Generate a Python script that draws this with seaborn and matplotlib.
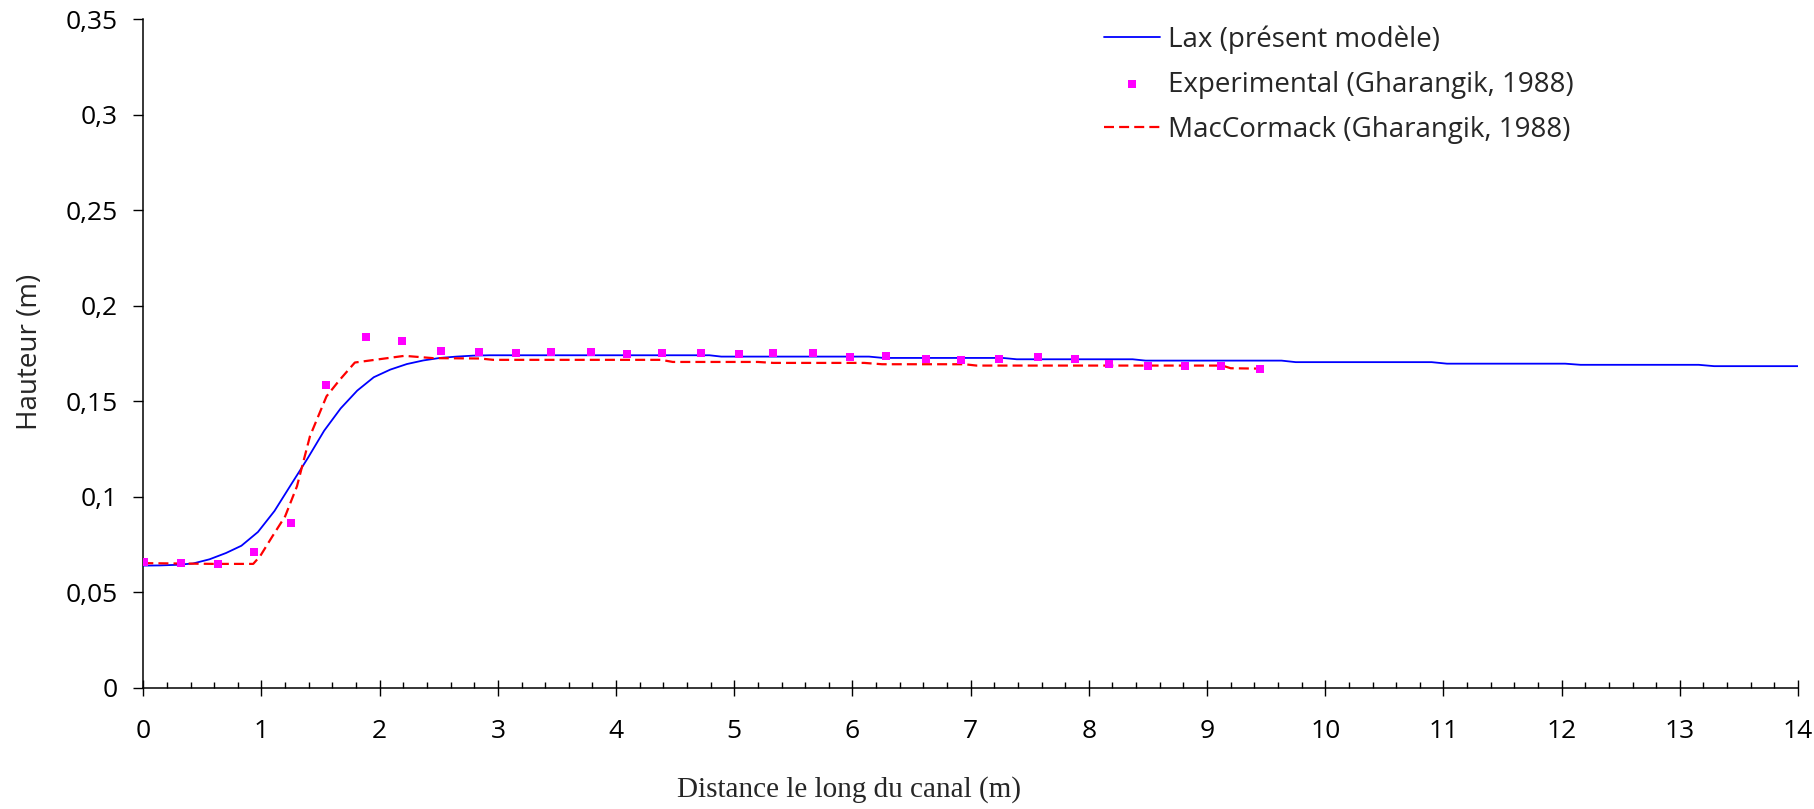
import numpy as np
import pandas as pd
import matplotlib
matplotlib.use("Agg")
import matplotlib.pyplot as plt
from matplotlib.ticker import FuncFormatter, MultipleLocator
import seaborn as sns

# ---------------- data ----------------
lax_x = [0.00, 0.14, 0.28, 0.42, 0.56, 0.70, 0.83, 0.97, 1.11, 1.25, 1.39, 1.53,
         1.67, 1.81, 1.95, 2.09, 2.23, 2.37, 2.51, 2.65, 2.79, 2.93, 4.79, 4.89,
         6.14, 6.26, 7.27, 7.39, 8.37, 8.48, 9.63, 9.75, 10.90, 11.03, 12.03,
         12.16, 13.16, 13.29, 14.00]
lax_y = [0.0639, 0.0640, 0.0643, 0.0650, 0.0672, 0.0705, 0.0743, 0.0815, 0.0925,
         0.1063, 0.1200, 0.1345, 0.1462, 0.1555, 0.1625, 0.1665, 0.1694, 0.1713,
         0.1726, 0.1733, 0.1738, 0.1740, 0.1740, 0.1733, 0.1733, 0.1726, 0.1726,
         0.1719, 0.1719, 0.1712, 0.1712, 0.1704, 0.1704, 0.1696, 0.1696, 0.1690,
         0.1690, 0.1683, 0.1683]

exp_x = [0.01, 0.32, 0.63, 0.94, 1.25, 1.55, 1.88, 2.19, 2.52, 2.84, 3.15, 3.45,
         3.79, 4.09, 4.39, 4.72, 5.04, 5.33, 5.67, 5.98, 6.28, 6.62, 6.92, 7.24,
         7.57, 7.88, 8.17, 8.50, 8.81, 9.12, 9.45]
exp_y = [0.0660, 0.0652, 0.0650, 0.0710, 0.0862, 0.1585, 0.1838, 0.1815, 0.1764,
         0.1758, 0.1751, 0.1758, 0.1758, 0.1744, 0.1751, 0.1751, 0.1744, 0.1751,
         0.1751, 0.1730, 0.1737, 0.1723, 0.1716, 0.1723, 0.1730, 0.1723, 0.1693,
         0.1686, 0.1686, 0.1686, 0.1670]

mac_x = [0.00, 0.30, 0.60, 0.93, 0.99, 1.09, 1.20, 1.30, 1.41, 1.55, 1.66, 1.79,
         2.21, 2.45, 2.85, 2.96, 4.38, 4.48, 5.20, 5.33, 6.10, 6.25, 6.95, 7.05,
         9.13, 9.20, 9.45]
mac_y = [0.0652, 0.0650, 0.0648, 0.0648, 0.0690, 0.0790, 0.0897, 0.1054, 0.1316,
         0.1525, 0.1610, 0.1702, 0.1737, 0.1725, 0.1723, 0.1716, 0.1716, 0.1705,
         0.1705, 0.1700, 0.1700, 0.1693, 0.1693, 0.1686, 0.1686, 0.1672, 0.1670]

x_ticks = list(range(0, 15))
y_ticks = [0, 0.05, 0.1, 0.15, 0.2, 0.25, 0.3, 0.35]

lbl_lax = "Lax (présent modèle)"
lbl_exp = "Experimental (Gharangik, 1988)"
lbl_mac = "MacCormack (Gharangik, 1988)"

# ---------------- style ----------------
sns.set_style("ticks")
plt.rcParams['font.family'] = ['Open Sans', 'DejaVu Sans']

W, H = 1814, 809
fig = plt.figure(figsize=(W / 100, H / 100), dpi=100)
left, right, top, bottom = 143.3, 1798.0, 19.0, 687.7
ax = fig.add_axes([left / W, 1 - bottom / H, (right - left) / W, (bottom - top) / H])

df_lax = pd.DataFrame({"x": lax_x, "y": lax_y})
df_mac = pd.DataFrame({"x": mac_x, "y": mac_y})
df_exp = pd.DataFrame({"x": exp_x, "y": exp_y})

sns.lineplot(data=df_lax, x="x", y="y", ax=ax, color="#0000FF", linewidth=1.3,
             sort=False, estimator=None, label=lbl_lax, zorder=3)
sns.scatterplot(data=df_exp, x="x", y="y", ax=ax, color="#FF00FF", marker="s",
                s=40, linewidth=0, label=lbl_exp, zorder=4)
sns.lineplot(data=df_mac, x="x", y="y", ax=ax, color="#FF0000", linewidth=1.6,
             sort=False, estimator=None, label=lbl_mac, zorder=3)
ax.lines[-1].set_dashes((4.5, 2.3))

ax.set_xlim(0, 14)
ax.set_ylim(0, 0.35)
ax.set_xticks(x_ticks)
ax.set_yticks(y_ticks)
ax.xaxis.set_minor_locator(MultipleLocator(0.2))
ax.yaxis.set_major_formatter(FuncFormatter(lambda v, p: ("%g" % round(v, 2)).replace(".", ",")))
ax.xaxis.set_major_formatter(FuncFormatter(lambda v, p: "%d" % v))

sns.despine(ax=ax)
for s in ("left", "bottom"):
    ax.spines[s].set_linewidth(1.1)
    ax.spines[s].set_color("#000000")

ax.tick_params(axis="y", which="major", direction="out", length=7.5, width=1.0,
               pad=11, labelsize=19, colors="#000000")
ax.tick_params(axis="x", which="major", direction="inout", length=11, width=1.0,
               pad=17, labelsize=19, colors="#000000")
ax.tick_params(axis="x", which="minor", direction="in", length=4.5, width=1.0,
               colors="#000000")

ax.set_xlabel("")
ax.set_ylabel("")
fig.text(30 / W, 1 - 352 / H, "Hauteur (m)", rotation=90,
         ha="center", va="center", fontsize=20)
fig.text(849 / W, 1 - 797 / H, "Distance le long du canal (m)", ha="center",
         va="baseline", fontsize=21, family=["Liberation Serif", "DejaVu Serif"])

leg = ax.legend(loc="upper left", bbox_to_anchor=(1104 / W, 1 - 25 / H),
                bbox_transform=fig.transFigure, frameon=False, fontsize=20,
                handlelength=2.0, handletextpad=0.3, labelspacing=0.62,
                borderaxespad=0, borderpad=0, markerscale=1.0)

fig.savefig("out.png", dpi=100)
